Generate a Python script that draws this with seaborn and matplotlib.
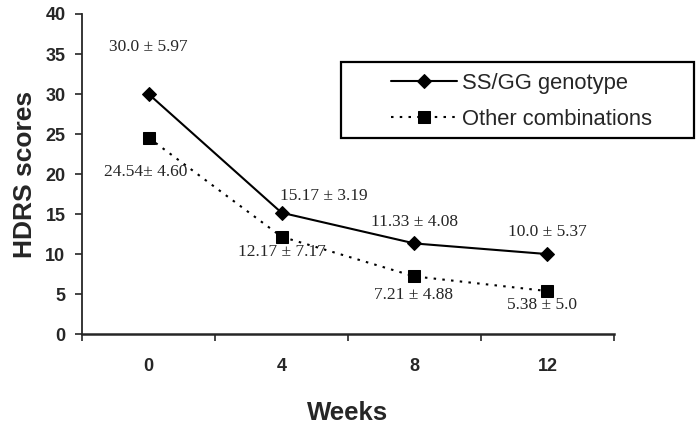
import matplotlib
matplotlib.use('Agg')
import matplotlib.pyplot as plt
from matplotlib.patches import Rectangle
import seaborn as sns
import pandas as pd

# Data
weeks = ['0', '4', '8', '12']
ssgg = [30.0, 15.17, 11.33, 10.0]
other = [24.54, 12.17, 7.21, 5.38]
ssgg_sd = [5.97, 3.19, 4.08, 5.37]
other_sd = [4.60, 7.17, 4.88, 5.0]

df = pd.DataFrame({
    'pos': list(range(len(weeks))) * 2,
    'score': ssgg + other,
    'group': ['SS/GG genotype'] * 4 + ['Other combinations'] * 4,
})

sns.set_style('white')
plt.rcParams['font.family'] = ['Liberation Sans', 'DejaVu Sans']

fig, ax = plt.subplots(figsize=(6.96, 4.24), dpi=100)
fig.subplots_adjust(left=0.118, right=0.882, top=0.967, bottom=0.212)

sns.lineplot(data=df, x='pos', y='score', hue='group', style='group',
             markers={'SS/GG genotype': 'D', 'Other combinations': 's'},
             dashes={'SS/GG genotype': '', 'Other combinations': (1.2, 3)},
             palette={'SS/GG genotype': 'black', 'Other combinations': 'black'},
             markersize=8, markeredgecolor='black', linewidth=1.5, ax=ax)
for line in ax.lines:
    if line.get_marker() == 'D':
        line.set_markersize(7.5)
    else:
        line.set_markersize(9)

# Value labels (mean ± SD)
serif = ['Liberation Serif', 'DejaVu Serif']
txt_ssgg = [f'{m} ± {s}' for m, s in zip(['30.0', '15.17', '11.33', '10.0'], ssgg_sd)]
txt_other = ['24.54± 4.60', '12.17 ± 7.17', '7.21 ± 4.88', '5.38 ± 5.0']
pos_ssgg = [(0.0, 35.9), (1.32, 17.2), (2.0, 14.0), (3.0, 12.8)]
pos_other = [(-0.02, 20.2), (1.0, 10.3), (1.99, 4.9), (2.96, 3.7)]
for t, (x, y) in zip(txt_ssgg, pos_ssgg):
    ax.text(x, y, t, ha='center', va='center', fontsize=12.5, family=serif)
for t, (x, y) in zip(txt_other, pos_other):
    ax.text(x, y, t, ha='center', va='center', fontsize=12.5, family=serif)

ax.set_xlim(-0.5, len(weeks) - 0.5)
ax.set_ylim(0, 40)
ax.set_yticks(range(0, 41, 5))
ax.set_xticks([i - 0.5 for i in range(len(weeks) + 1)])
ax.set_xticklabels([])
ax.set_xticks(range(len(weeks)), minor=True)
ax.set_xticklabels(weeks, minor=True)
ax.tick_params(axis='x', which='major', length=5, width=1.2, direction='out', bottom=True)
ax.tick_params(axis='x', which='minor', length=0, pad=17)
ax.tick_params(axis='y', length=5, width=1.2, direction='out', left=True, pad=7)
for lab in ax.get_xticklabels(minor=True) + ax.get_yticklabels():
    lab.set_fontweight('bold')
    lab.set_fontsize(13)

sns.despine(ax=ax)
ax.spines['left'].set_linewidth(1.3)
ax.spines['bottom'].set_linewidth(1.8)

ax.set_xlabel('Weeks', fontsize=18.5, fontweight='bold', labelpad=19)
ax.set_ylabel('HDRS scores', fontsize=19, fontweight='bold', labelpad=6)

# Legend: entries without frame, box drawn separately to match the wide frame
ax.get_legend().remove()
handles, labels = ax.get_legend_handles_labels()
leg = fig.legend(handles, labels, loc='upper left', bbox_to_anchor=(0.562, 0.828),
                 fontsize=15.8, frameon=False, borderpad=0, borderaxespad=0,
                 handlelength=3.0, handletextpad=0.25, labelspacing=0.68)
fig.patches.append(Rectangle((341 / 696, 1 - 138 / 424), 353 / 696, 76 / 424,
                             transform=fig.transFigure, fill=False,
                             edgecolor='black', linewidth=1.6))

fig.savefig('out.png', dpi=100)
